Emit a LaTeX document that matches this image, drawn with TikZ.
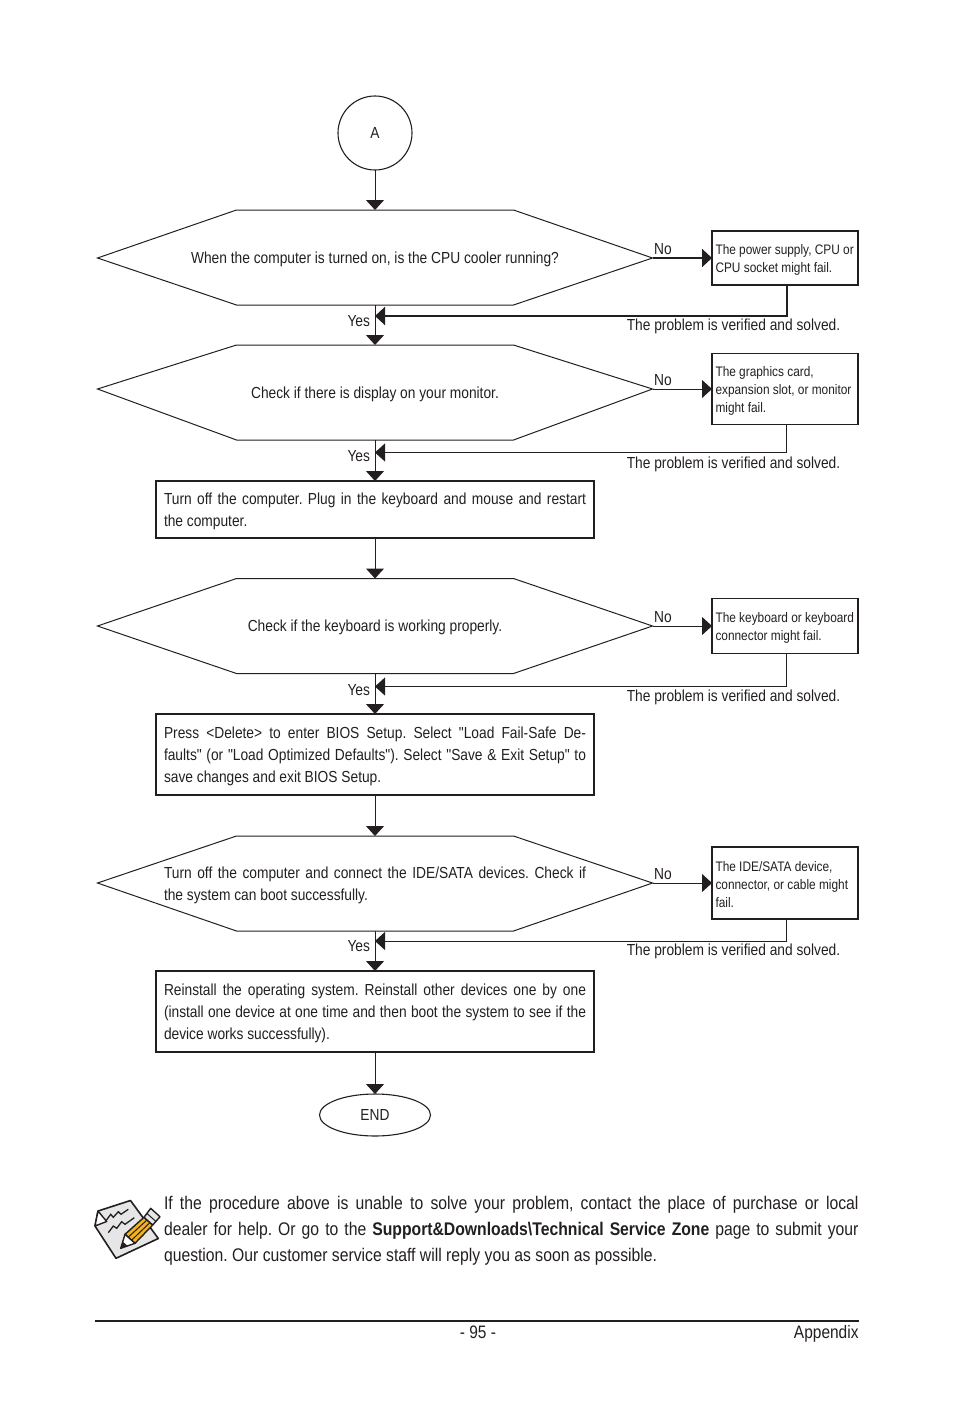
\documentclass[tikz,border=0pt]{standalone}
\usepackage{fontspec}
\setmainfont[FakeStretch=0.86,Ligatures=TeXOff]{Liberation Sans}
\usetikzlibrary{arrows.meta,shapes.geometric}
\definecolor{ink}{HTML}{231F20}
\definecolor{paper}{HTML}{E6E6E6}
\definecolor{pencil}{HTML}{F5B21A}
\newcommand{\natspace}{\frenchspacing\spaceskip=0pt\xspaceskip=0pt\relax}
\begin{document}
\begin{tikzpicture}[x=1pt,y=-1pt,
    every node/.style={outer sep=0pt,text=ink},
    flow/.style={draw=ink,line width=1pt,-{Triangle[width=18pt,length=10pt]}},
    flowthick/.style={flow,line width=2pt},
    hexnode/.style={minimum width=555pt,minimum height=95pt,inner sep=0pt,text width=422pt,align=flush center,font=\fontsize{16}{22}\selectfont,execute at begin node={\natspace\rule{0pt}{15pt}}},
    stepbox/.style={draw=ink,line width=1.1pt,inner sep=8pt,text width=422pt,align=justify,font=\fontsize{16}{22}\selectfont,execute at begin node={\natspace\rule{0pt}{14.5pt}}},
    failbox/.style={draw=ink,line width=1.5pt,minimum width=146pt,inner sep=3.5pt,text width=139pt,align=flush left,font=\fontsize{13.8}{18}\selectfont,execute at begin node={\natspace\rule{0pt}{14pt}}},
    tag/.style={font=\fontsize{16}{18}\selectfont},
    solved/.style={font=\fontsize{16}{18}\selectfont}]
    \useasboundingbox (0,0) rectangle (954,1418);

    \node[draw=ink,line width=1.1pt,circle,minimum size=74pt,inner sep=0pt,font=\fontsize{16}{18}\selectfont] (start) at (375,133) {A};

    \node[hexnode] (q1) at (375,257.5) {When the computer is turned on, is the CPU cooler running?};
    \node[hexnode] (q2) at (375,392.5) {Check if there is display on your monitor.};
    \node[hexnode] (q3) at (375,626) {Check if the keyboard is working properly.};
    \node[hexnode,align=justify] (q4) at (375,883.5) {Turn off the computer and connect the IDE/SATA devices. Check if\linebreak the system can boot successfully.};

    \foreach \q/\t in {q1/258,q2/389,q3/626,q4/883}
      \draw[ink,line width=1pt] (97.5,\t) -- ([xshift=139pt]\q.north west) -- ([xshift=-139pt]\q.north east) -- (652.5,\t) coordinate (\q tip) -- ([xshift=-139pt]\q.south east) -- ([xshift=139pt]\q.south west) -- cycle;

    \node[stepbox,minimum height=57pt] (s1) at (375,509.5) {Turn off the computer. Plug in the keyboard and mouse and restart\linebreak the computer.};
    \node[stepbox,minimum height=81pt] (s2) at (375,754.5) {Press <Delete> to enter BIOS Setup. Select "Load Fail-Safe De-\linebreak faults" (or "Load Optimized Defaults"). Select "Save \& Exit Setup" to\linebreak save changes and exit BIOS Setup.};
    \node[stepbox,minimum height=81pt] (s3) at (375,1011.5) {Reinstall the operating system. Reinstall other devices one by one\linebreak (install one device at one time and then boot the system to see if the\linebreak device works successfully).};
    \node[draw=ink,line width=1.1pt,ellipse,minimum width=111pt,minimum height=42pt,inner sep=0pt,font=\fontsize{16}{18}\selectfont] (stop) at (375,1115) {END};

    \node[failbox,line width=2pt,minimum height=54pt] (f1) at (785,258) {The power supply, CPU or\\CPU socket might fail.};
    \node[failbox,minimum height=71pt] (f2) at (785,389) {The graphics card,\\expansion slot, or monitor\\might fail.};
    \node[failbox,minimum height=55pt] (f3) at (785,626) {The keyboard or keyboard\\connector might fail.};
    \node[failbox,minimum height=72pt,execute at begin node={\natspace}] (f4) at (785,883) {The IDE/SATA device,\\connector, or cable might\\fail.};

    \coordinate (m1) at (375,316);
    \coordinate (m2) at (375,452.5);
    \coordinate (m3) at (375,686.5);
    \coordinate (m4) at (375,941);

    \draw[flow] (start) -- (q1.north);
    \draw[flow] (q1.south) -- (q2.north);
    \draw[flow] (q2.south) -- (s1.north);
    \draw[flow] (s1) -- (q3.north);
    \draw[flow] (q3.south) -- (s2.north);
    \draw[flow] (s2) -- (q4.north);
    \draw[flow] (q4.south) -- (s3.north);
    \draw[flow] (s3) -- (stop);

    \draw[flowthick] (q1tip) -- (f1.west);
    \draw[flow] (q2tip) -- (f2.west);
    \draw[flow] (q3tip) -- (f3.west);
    \draw[flow] (q4tip) -- (f4.west);

    \draw[flowthick] ([xshift=1.5pt]f1.south) |- (m1);
    \draw[flow] ([xshift=1.5pt]f2.south) |- (m2);
    \draw[flow] ([xshift=1.5pt]f3.south) |- (m3);
    \draw[flow] ([xshift=1.5pt]f4.south) |- (m4);

    \node[tag] (no1) at (663,249) {No};
    \node[tag] (no2) at (663,380) {No};
    \node[tag] (no3) at (663,617) {No};
    \node[tag] (no4) at (663,874) {No};

    \node[tag,anchor=east,inner xsep=0pt] (yes1) at (370,321) {Yes};
    \node[tag,anchor=east,inner xsep=0pt] (yes2) at (370,456) {Yes};
    \node[tag,anchor=east,inner xsep=0pt] (yes3) at (370,690) {Yes};
    \node[tag,anchor=east,inner xsep=0pt] (yes4) at (370,946) {Yes};

    \node[solved] (v1) at (733.5,326.5) {The problem is verified and solved.};
    \node[solved] (v2) at (733.5,464.5) {The problem is verified and solved.};
    \node[solved] (v3) at (733.5,697.5) {The problem is verified and solved.};
    \node[solved] (v4) at (733.5,951.5) {The problem is verified and solved.};

    \draw[ink,line width=1.6pt,line join=round,fill=paper] (98,1211) -- (130.5,1200.5) -- (158.3,1238.5) -- (116,1258.3) -- (95,1226) -- cycle;
    \draw[ink,line width=1.4pt,line join=round,fill=white] (98,1211) -- (106.7,1221.5) -- (95,1226) -- cycle;
    \draw[ink,line width=1.3pt] (106,1220.7) -- (110.7,1214.3) -- (113.3,1217.3) -- (118.3,1211.7) -- (121,1214.3) -- (128.3,1209.3);
    \draw[ink,line width=1.3pt] (108.3,1232.7) -- (113.3,1226) -- (116.7,1228.3) -- (121.7,1221.7) -- (125,1224.3) -- (134.3,1217.7);
    \draw[ink,line width=1.4pt,line join=round,fill=pencil] (125,1234.3) -- (144,1217.3) -- (152.7,1225) -- (135,1243.3) -- cycle;
    \draw[ink,line width=1.4pt,line join=round,fill=white] (125,1234.3) -- (135,1243.3) -- (120.7,1248.3) -- cycle;
    \fill[ink] (120.7,1248.3) -- (122.5,1241.5) -- (127.5,1245.8) -- cycle;
    \draw[ink,line width=1pt] (128.2,1237.2) -- (147,1220) (131.5,1240.3) -- (150,1222.5);
    \draw[ink,line width=1.4pt,line join=round,fill=paper] (144,1217.3) -- (150.7,1208.3) -- (160,1216.7) -- (152.7,1225) -- cycle;
    \draw[ink,line width=1pt] (147,1213.5) -- (156,1221.5);

    \node[anchor=north west,inner sep=0pt,text width=694.5pt,align=justify,font=\fontsize{18.3}{26}\selectfont,execute at begin node={\natspace}] (note) at (164,1196) {If the procedure above is unable to solve your problem, contact the place of purchase or local\linebreak dealer for help. Or go to the \textbf{Support\&Downloads\textbackslash Technical Service Zone} page to submit your\linebreak question. Our customer service staff will reply you as soon as possible.};

    \coordinate (ruleleft) at (95,1321);
    \coordinate (ruleright) at (859,1321);
    \draw[ink,line width=2pt] (ruleleft) -- (ruleright);
    \node[font=\fontsize{18}{20}\selectfont] (page) at (478,1332.5) {- 95 -};
    \node[anchor=east,inner xsep=0pt,font=\fontsize{18}{20}\selectfont] (section) at (858.5,1333.5) {Appendix};
  \end{tikzpicture}
\end{document}
